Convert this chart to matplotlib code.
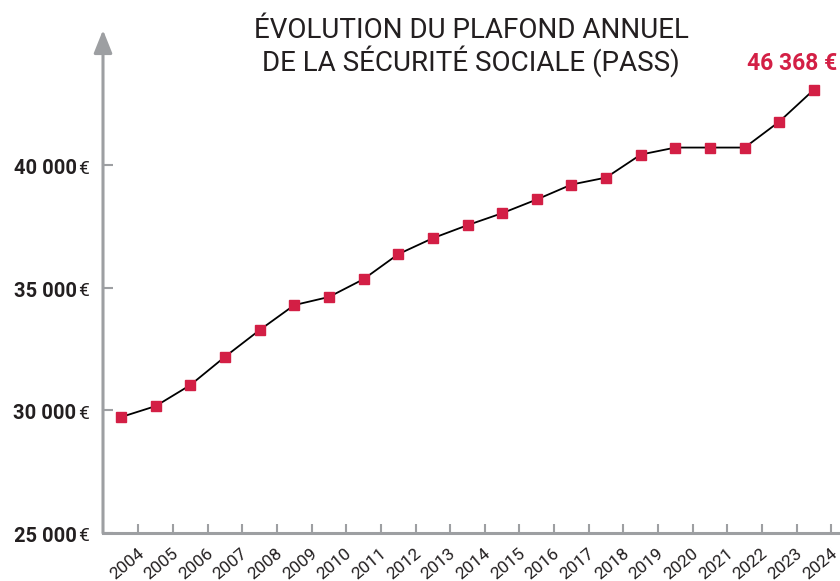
import numpy as np
import matplotlib
matplotlib.use("Agg")
import matplotlib.pyplot as plt
from matplotlib.transforms import ScaledTranslation

plt.rcParams['font.family'] = ['Roboto', 'DejaVu Sans']

# values as drawn on the reference chart
years = list(range(2004, 2025))
pass_vals = [29727, 30175, 31032, 32186, 33275, 34294, 34625, 35351, 36370, 37023,
             37553, 38042, 38601, 39209, 39494, 40432, 40718, 40718, 40718, 41778, 43083]
ytick_vals = [25000, 30000, 35000, 40000]
last_label = "46 368 €"
title_lines = ["ÉVOLUTION DU PLAFOND ANNUEL", "DE LA SÉCURITÉ SOCIALE (PASS)"]

GRAY = '#9d9fa2'
RED = '#d31f45'
DARK = '#231f20'

fig = plt.figure(figsize=(8.4, 5.81), dpi=100)
ax = fig.add_axes([103 / 840, 48 / 581, 737 / 840, 503 / 581])

x = np.arange(len(years))
ax.plot(x, pass_vals, color='black', lw=1.3, zorder=2)
ax.plot(x, pass_vals, linestyle='none', marker='s', ms=7.5, color=RED, zorder=3)

ax.set_xlim(-0.52, 20.75)
ax.set_ylim(25000, 45512)

for s in ['top', 'right', 'left']:
    ax.spines[s].set_visible(False)
ax.spines['bottom'].set_color(GRAY)
ax.spines['bottom'].set_linewidth(2.2)

# y axis with arrow head
ax.annotate('', xy=(0, 1), xytext=(0, 0), xycoords='axes fraction',
            arrowprops=dict(arrowstyle='-|>,head_length=0.7,head_width=0.28',
                            color=GRAY, lw=2.2, shrinkA=0, shrinkB=0,
                            mutation_scale=20))

ax.set_xticks(x + 0.5)
ax.set_xticklabels([str(y) for y in years], rotation=40, ha='right',
                   rotation_mode='anchor', fontsize=12.5, color=DARK)
ax.tick_params(axis='x', direction='in', length=6.5, width=1.5, color=GRAY, pad=9)
offset = ScaledTranslation(-1 / 72, 0, fig.dpi_scale_trans)
for lab in ax.get_xticklabels():
    lab.set_transform(lab.get_transform() + offset)

ax.set_yticks(ytick_vals)
ax.set_yticklabels([])
ax.tick_params(axis='y', direction='in', length=7, width=1.5, color=GRAY)
for v in ytick_vals:
    ax.annotate(f"{v:,}".replace(",", " "), xy=(0, v), xycoords=('axes fraction', 'data'),
                xytext=(-19, -1), textcoords='offset points', ha='right',
                va='center_baseline', fontsize=14.5, fontweight='bold', color=DARK,
                annotation_clip=False)
    ax.annotate("€", xy=(0, v), xycoords=('axes fraction', 'data'),
                xytext=(-18, -1), textcoords='offset points', ha='left',
                va='center_baseline', fontsize=14, color=DARK,
                annotation_clip=False)

ax.annotate(last_label, xy=(x[-1], pass_vals[-1]), xytext=(17, 14),
            textcoords='offset points', ha='right', va='baseline',
            fontsize=16.5, fontweight='bold', color=RED, annotation_clip=False)

fig.text(0.5607, 1 - 38 / 581, title_lines[0], ha='center', va='baseline',
         fontsize=20, color=DARK)
fig.text(0.5607, 1 - 71 / 581, title_lines[1], ha='center', va='baseline',
         fontsize=20, color=DARK)

fig.savefig("out.png", dpi=100)
